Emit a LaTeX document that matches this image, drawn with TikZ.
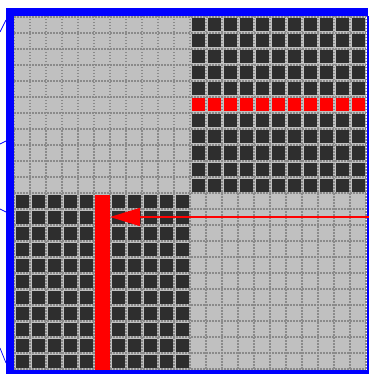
\documentclass[tikz,border=0pt]{standalone}
\usetikzlibrary{arrows.meta}
\definecolor{lightcell}{HTML}{C0C0C0}
\definecolor{dotgray}{HTML}{8A8A8A}
\definecolor{darkcell}{HTML}{2E2E2E}
\definecolor{frameblue}{HTML}{0000FF}
\definecolor{markred}{HTML}{FF0000}
\begin{document}
\begin{tikzpicture}[x=1pt,y=-1pt,line width=0.8pt,>=Stealth,
  gridline/.style={dotgray,line width=1.5pt,dash pattern=on 1.5pt off 1.5pt},
  cell/.style={fill=darkcell},
  hotcell/.style={fill=markred}]
\useasboundingbox (0,0) rectangle (369,374);
% light background of the board
\fill[lightcell] (14,16) rectangle (366,370);
% dotted grid lines, pitch 16
\foreach \k in {0,...,22}{
  \draw[gridline] (14+16*\k,16) -- (14+16*\k,370);
  \draw[gridline] (14,17+16*\k) -- (366,17+16*\k);
}
% ---- dark quadrants ----
\foreach \i in {11,...,21}
  \foreach \j in {0,...,10}
    \fill[cell] (15.5+16*\i,18.5+16*\j) rectangle +(13,13);
\foreach \i in {0,...,10}
  \foreach \j in {11,...,21}
    \fill[cell] (15.5+16*\i,18.5+16*\j) rectangle +(13,13);
% ---- red row (top right) and red column (bottom left) ----
\foreach \i in {11,...,21}
  \fill[hotcell] (15.5+16*\i,18.5+16*5) rectangle +(13,13);
\fill[hotcell] (95,194.5) rectangle (110,370);
% ---- blue frame ----
\fill[frameblue] (6,8) rectangle (368,16);
\fill[frameblue] (6,8) rectangle (14,374);
\fill[frameblue] (6,370) rectangle (369,374);
\fill[frameblue] (367,16) rectangle (369,374);
% stray blue leads on the left
\draw[frameblue,line width=0.7pt] (0,32) -- (6,20);
\draw[frameblue,line width=0.7pt] (0,144) -- (6,141);
\draw[frameblue,line width=0.7pt] (0,209) -- (6,212);
\draw[frameblue,line width=0.7pt] (0,348) -- (6,363);
% ---- red arrow ----
\coordinate (start) at (369,217);
\coordinate (tip) at (110,217);
\draw[markred,line width=1.3pt,-{Triangle[length=30pt,width=18pt]}] (start) -- (tip);
\end{tikzpicture}
\end{document}
